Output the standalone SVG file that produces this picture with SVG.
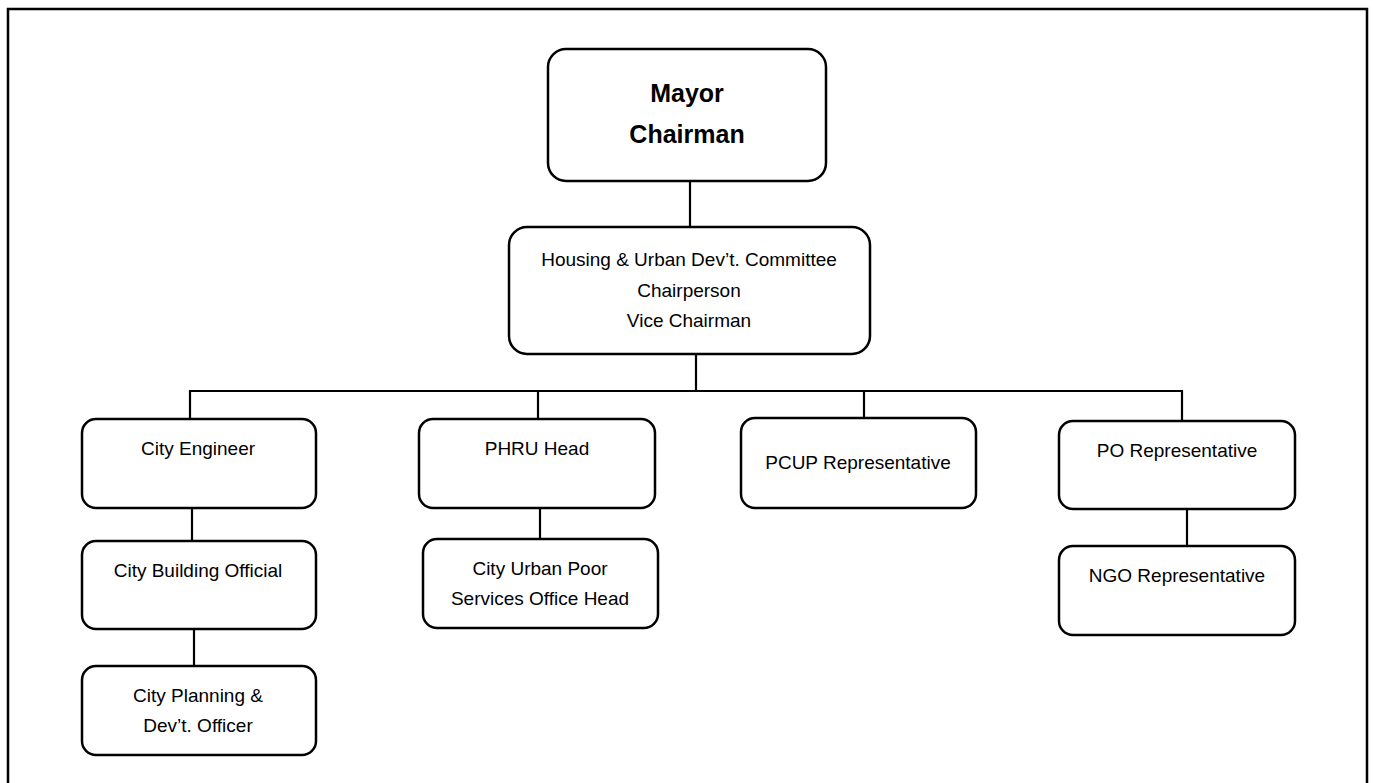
<svg xmlns="http://www.w3.org/2000/svg" width="1373" height="783" viewBox="0 0 1373 783">
<style>
.box{fill:#fff;stroke:#000;stroke-width:2.5}
.ln{fill:none;stroke:#000;stroke-width:2.2}
.t{font-family:"Liberation Sans",Arial,sans-serif;font-size:19px;fill:#000;text-anchor:middle}
.b{font-family:"Liberation Sans",Arial,sans-serif;font-size:25px;font-weight:bold;fill:#000;text-anchor:middle}
</style>
<rect width="1373" height="783" fill="#fff"/>
<path d="M8,783 V9 H1367 V783" fill="none" stroke="#000" stroke-width="2.5"/>
<g id="connectors">
<path class="ln" d="M690,181 V227"/>
<path class="ln" d="M696,354 V391"/>
<path class="ln" d="M190,419 V391 H1182 V421"/>
<path class="ln" d="M538,391 V419"/>
<path class="ln" d="M864,391 V418"/>
<path class="ln" d="M192,508 V541"/>
<path class="ln" d="M194,629 V666"/>
<path class="ln" d="M540,508 V539"/>
<path class="ln" d="M1187,509 V546"/>
</g>
<g id="mayor">
<rect class="box" x="548" y="49" width="278" height="132" rx="18"/>
<text class="b" x="687" y="102">Mayor</text>
<text class="b" x="687" y="143">Chairman</text>
</g>
<g id="housing">
<rect class="box" x="509" y="227" width="361" height="127" rx="18"/>
<text class="t" x="689" y="266">Housing &amp; Urban Dev’t. Committee</text>
<text class="t" x="689" y="297">Chairperson</text>
<text class="t" x="689" y="327">Vice Chairman</text>
</g>
<g id="city-engineer">
<rect class="box" x="82" y="419" width="234" height="89" rx="14"/>
<text class="t" x="198" y="455">City Engineer</text>
</g>
<g id="city-building">
<rect class="box" x="82" y="541" width="234" height="88" rx="14"/>
<text class="t" x="198" y="577">City Building Official</text>
</g>
<g id="city-planning">
<rect class="box" x="82" y="666" width="234" height="89" rx="14"/>
<text class="t" x="198" y="702">City Planning &amp;</text>
<text class="t" x="198" y="732">Dev’t. Officer</text>
</g>
<g id="phru">
<rect class="box" x="419" y="419" width="236" height="89" rx="14"/>
<text class="t" x="537" y="455">PHRU Head</text>
</g>
<g id="city-urban-poor">
<rect class="box" x="423" y="539" width="235" height="89" rx="14"/>
<text class="t" x="540" y="575">City Urban Poor</text>
<text class="t" x="540" y="605">Services Office Head</text>
</g>
<g id="pcup">
<rect class="box" x="741" y="418" width="235" height="90" rx="14"/>
<text class="t" x="858" y="469">PCUP Representative</text>
</g>
<g id="po">
<rect class="box" x="1059" y="421" width="236" height="88" rx="14"/>
<text class="t" x="1177" y="457">PO Representative</text>
</g>
<g id="ngo">
<rect class="box" x="1059" y="546" width="236" height="89" rx="14"/>
<text class="t" x="1177" y="582">NGO Representative</text>
</g>
</svg>
